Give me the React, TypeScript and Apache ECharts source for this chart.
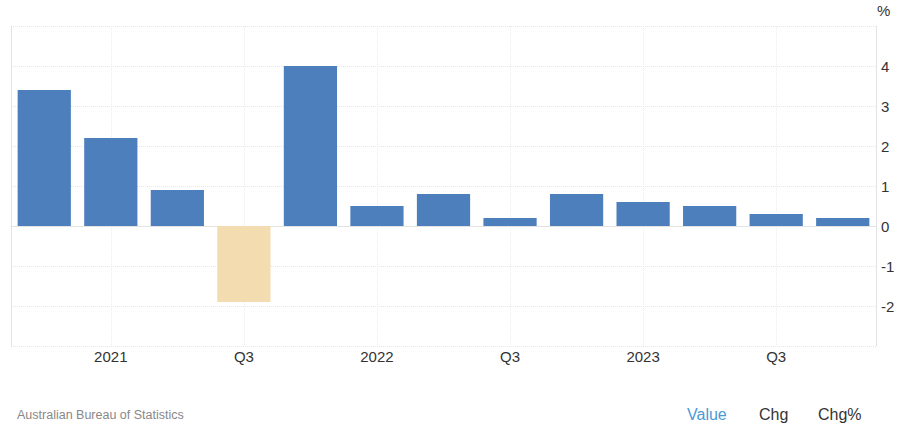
import React, { useEffect, useRef } from "react";
import * as echarts from "echarts";

const categories = [
  "Q4 2020", "Q1 2021", "Q2 2021", "Q3 2021", "Q4 2021",
  "Q1 2022", "Q2 2022", "Q3 2022", "Q4 2022",
  "Q1 2023", "Q2 2023", "Q3 2023", "Q4 2023",
];
const tickLabels = ["", "2021", "", "Q3", "", "2022", "", "Q3", "", "2023", "", "Q3", ""];
const values = [3.4, 2.2, 0.9, -1.9, 4.0, 0.5, 0.8, 0.2, 0.8, 0.6, 0.5, 0.3, 0.2];
const yTicks = [-2, -1, 0, 1, 2, 3, 4];

const POS = "#4d7fbc";
const NEG = "#f3dcb0";

export default function App() {
  const ref = useRef<HTMLDivElement>(null);
  useEffect(() => {
    if (!ref.current) return;
    const chart = echarts.init(ref.current, null, { renderer: "svg" });
    const font = "Liberation Sans, Arial, sans-serif";
    chart.setOption({
      animation: false,
      grid: { left: 11, right: 24, top: 26, bottom: 88 },
      xAxis: {
        type: "category",
        data: categories,
        boundaryGap: true,
        axisLine: { show: true, lineStyle: { color: "#e3e3e3" } },
        axisTick: { show: false, alignWithLabel: true },
        axisLabel: {
          interval: 0,
          formatter: (_v: string, i: number) => tickLabels[i],
          color: "#333",
          fontSize: 15,
          fontFamily: font,
          margin: 3,
        },
        splitLine: {
          show: true,
          alignWithLabel: true,
          interval: (i: number) => tickLabels[i] !== "",
          lineStyle: { color: "#ececec", type: "dotted" },
        },
      },
      yAxis: [
        {
          type: "value",
          position: "right",
          min: -3,
          max: 5,
          interval: 1,
          axisLine: { show: true, lineStyle: { color: "#e3e3e3" } },
          axisTick: { show: false },
          axisLabel: {
            color: "#333",
            fontSize: 15,
            fontFamily: font,
            margin: 5,
            formatter: (v: number) => (yTicks.includes(v) ? String(v) : ""),
          },
          splitLine: { show: true, lineStyle: { color: "#e6e6e6", type: "dotted" } },
        },
        {
          type: "value",
          position: "left",
          min: -3,
          max: 5,
          interval: 1,
          axisLine: { show: true, lineStyle: { color: "#e3e3e3" } },
          axisTick: { show: false },
          axisLabel: { show: false },
          splitLine: { show: false },
        },
      ],
      series: [
        {
          type: "bar",
          barWidth: "80%",
          data: values.map((v) => ({
            value: v,
            itemStyle: { color: v < 0 ? NEG : POS },
          })),
        },
      ],
      graphic: [
        {
          type: "text",
          left: 877,
          top: 3,
          style: { text: "%", fill: "#333", fontSize: 15, fontFamily: font },
        },
        {
          type: "text",
          left: 17,
          top: 408,
          style: { text: "Australian Bureau of Statistics", fill: "#888", fontSize: 12.5, fontFamily: font },
        },
        {
          type: "text",
          left: 687,
          top: 406,
          style: { text: "Value", fill: "#4a9ad6", fontSize: 16, fontFamily: font },
        },
        {
          type: "text",
          left: 759,
          top: 406,
          style: { text: "Chg", fill: "#333", fontSize: 16, fontFamily: font },
        },
        {
          type: "text",
          left: 818,
          top: 406,
          style: { text: "Chg%", fill: "#333", fontSize: 16, fontFamily: font },
        },
      ],
    });
    return () => chart.dispose();
  }, []);
  return (
    <div
      ref={ref}
      style={{ position: "absolute", left: 0, top: 0, width: 900, height: 434, background: "#fff" }}
    />
  );
}
